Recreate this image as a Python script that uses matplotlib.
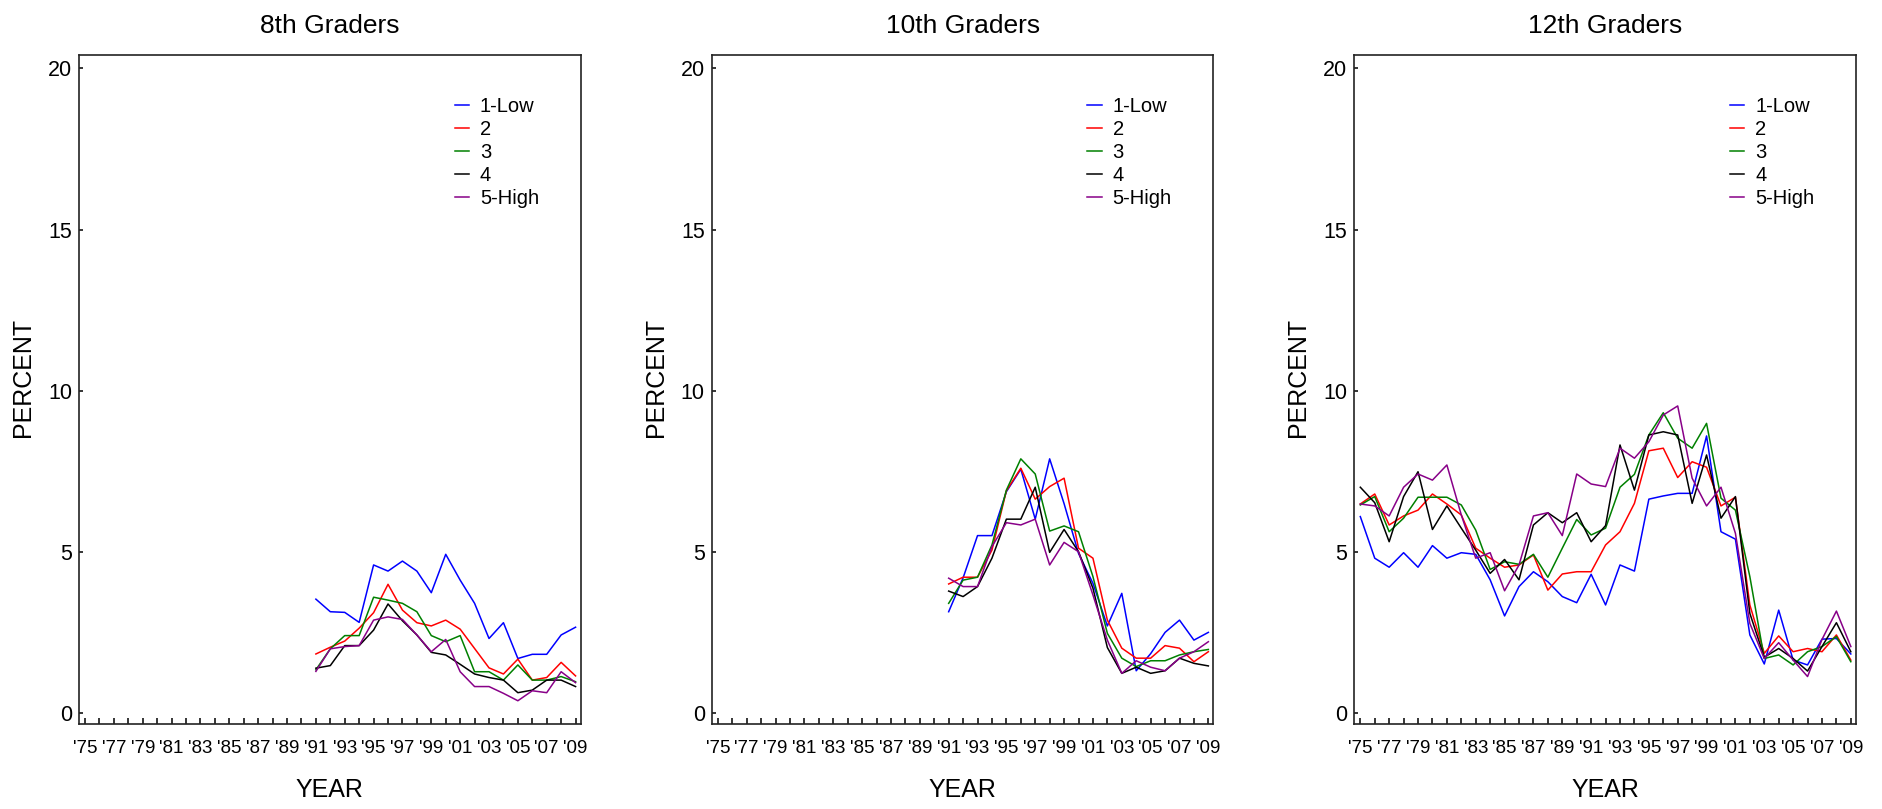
import matplotlib
matplotlib.use("Agg")
import matplotlib.pyplot as plt
import numpy as np

plt.rcParams['font.family'] = ['Liberation Sans', 'DejaVu Sans']

# data (percent by group)
groups = ['1-Low', '2', '3', '4', '5-High']
colors = ['#0000ff', '#ff0000', '#008000', '#000000', '#880088']

years_8 = list(range(1991, 2010))
g8_low = [3.54, 3.15, 3.13, 2.82, 4.60, 4.41, 4.72, 4.41, 3.74, 4.93, 4.13, 3.41, 2.32, 2.81, 1.70, 1.83, 1.83, 2.43, 2.67]
g8_2 = [1.84, 2.05, 2.24, 2.64, 3.12, 4.00, 3.20, 2.81, 2.71, 2.89, 2.61, 2.01, 1.41, 1.22, 1.68, 1.03, 1.11, 1.58, 1.16]
g8_3 = [1.35, 2.00, 2.41, 2.41, 3.60, 3.51, 3.41, 3.15, 2.41, 2.22, 2.41, 1.29, 1.29, 1.03, 1.50, 1.03, 1.03, 1.14, 0.98]
g8_4 = [1.40, 1.48, 2.10, 2.10, 2.58, 3.39, 2.87, 2.43, 1.89, 1.81, 1.52, 1.22, 1.11, 1.03, 0.64, 0.72, 1.03, 1.03, 0.83]
g8_high = [1.30, 2.00, 2.07, 2.10, 2.89, 2.99, 2.91, 2.43, 1.91, 2.29, 1.29, 0.83, 0.83, 0.62, 0.39, 0.70, 0.64, 1.29, 0.95]

years_10 = list(range(1991, 2010))
g10_low = [3.15, 4.20, 5.51, 5.51, 6.87, 7.57, 6.02, 7.89, 6.50, 4.96, 4.03, 2.71, 3.72, 1.32, 1.85, 2.51, 2.89, 2.27, 2.51]
g10_2 = [4.01, 4.22, 4.22, 5.06, 6.90, 7.60, 6.64, 7.03, 7.29, 5.12, 4.81, 2.89, 2.02, 1.71, 1.71, 2.10, 2.02, 1.60, 1.91]
g10_3 = [3.41, 4.13, 4.22, 5.22, 6.92, 7.89, 7.42, 5.65, 5.81, 5.63, 4.24, 2.48, 1.71, 1.45, 1.63, 1.63, 1.81, 1.91, 1.98]
g10_4 = [3.79, 3.62, 3.93, 4.81, 6.02, 6.02, 7.01, 4.99, 5.70, 5.01, 3.88, 2.04, 1.24, 1.43, 1.24, 1.32, 1.71, 1.55, 1.47]
g10_high = [4.19, 3.93, 3.93, 5.17, 5.91, 5.84, 6.02, 4.60, 5.30, 5.01, 3.67, 2.27, 1.24, 1.63, 1.43, 1.32, 1.71, 1.91, 2.22]

years_12 = list(range(1975, 2010))
g12_low = [6.10, 4.81, 4.53, 4.98, 4.53, 5.20, 4.81, 4.98, 4.93, 4.14, 3.02, 3.93, 4.39, 4.08, 3.62, 3.43,
           4.31, 3.36, 4.60, 4.41, 6.64, 6.74, 6.82, 6.82, 8.60, 5.63, 5.40, 2.43, 1.53, 3.20, 1.65, 1.50, 2.30, 2.32, 1.84]
g12_2 = [6.49, 6.80, 5.84, 6.12, 6.30, 6.80, 6.49, 6.15, 5.12, 4.81, 4.53, 4.60, 4.91, 3.82, 4.32, 4.39,
         4.39, 5.22, 5.63, 6.51, 8.14, 8.22, 7.31, 7.80, 7.63, 6.43, 6.70, 3.36, 1.86, 2.40, 1.91, 2.01, 1.91, 2.43, 1.65]
g12_3 = [6.46, 6.72, 5.63, 6.05, 6.70, 6.70, 6.70, 6.46, 5.68, 4.46, 4.70, 4.62, 4.93, 4.22, 5.12, 6.01,
         5.53, 5.74, 7.01, 7.41, 8.63, 9.32, 8.53, 8.22, 8.99, 6.67, 6.30, 4.24, 1.70, 1.81, 1.50, 1.91, 2.07, 2.38, 1.60]
g12_4 = [7.01, 6.53, 5.32, 6.72, 7.49, 5.70, 6.43, 5.74, 5.06, 4.34, 4.77, 4.14, 5.84, 6.22, 5.91, 6.22,
         5.32, 5.82, 8.32, 6.92, 8.63, 8.73, 8.63, 6.51, 8.01, 6.05, 6.72, 3.10, 1.74, 2.01, 1.70, 1.31, 2.07, 2.81, 1.91]
g12_high = [6.49, 6.43, 6.12, 7.01, 7.42, 7.23, 7.70, 6.15, 4.81, 4.98, 3.80, 4.60, 6.12, 6.22, 5.51, 7.42,
            7.11, 7.03, 8.22, 7.91, 8.42, 9.25, 9.53, 7.29, 6.43, 7.01, 5.58, 2.79, 1.70, 2.19, 1.65, 1.14, 2.29, 3.17, 2.07]

panels = [
    ('8th Graders', years_8, [g8_low, g8_2, g8_3, g8_4, g8_high]),
    ('10th Graders', years_10, [g10_low, g10_2, g10_3, g10_4, g10_high]),
    ('12th Graders', years_12, [g12_low, g12_2, g12_3, g12_4, g12_high]),
]

all_years = list(range(1975, 2010))
year_labels = ["'%02d" % (y % 100) if (y - 1975) % 2 == 0 else '' for y in all_years]

fig = plt.figure(figsize=(18.83, 8.09), dpi=100)
lefts = [0.04195, 0.378, 0.7192]

for left, (title, yrs, series) in zip(lefts, panels):
    ax = fig.add_axes([left, 0.1047, 0.2664, 0.8269])
    for vals, name, c in zip(series, groups, colors):
        ax.plot(yrs, vals, color=c, lw=1.1, label=name)

    ax.set_xlim(1974.58, 2009.35)
    ax.set_ylim(-0.34, 20.4)
    ax.set_xticks(all_years)
    ax.set_xticklabels(year_labels, fontsize=13.5)
    ax.set_yticks([0, 5, 10, 15, 20])
    ax.set_yticklabels(['0', '5', '10', '15', '20'], fontsize=15.5)
    ax.tick_params(axis='x', direction='in', length=4, width=1.1, pad=11)
    ax.tick_params(axis='y', direction='in', length=3, width=1.1, pad=5)
    for sp in ax.spines.values():
        sp.set_linewidth(1.2)
        sp.set_color('#222222')

    ax.set_title(title, fontsize=19, pad=16)
    ax.set_xlabel('YEAR', fontsize=18)
    ax.set_ylabel('PERCENT', fontsize=18)
    ax.xaxis.set_label_coords(0.5, -0.08)
    ax.yaxis.set_label_coords(-0.088, 0.518)

    ax.legend(loc='upper left', bbox_to_anchor=(0.749, 0.9375), frameon=False,
              fontsize=14.5, handlelength=0.7, handletextpad=0.55, labelspacing=0.2,
              borderpad=0, borderaxespad=0)

fig.savefig('out.png', dpi=100)
